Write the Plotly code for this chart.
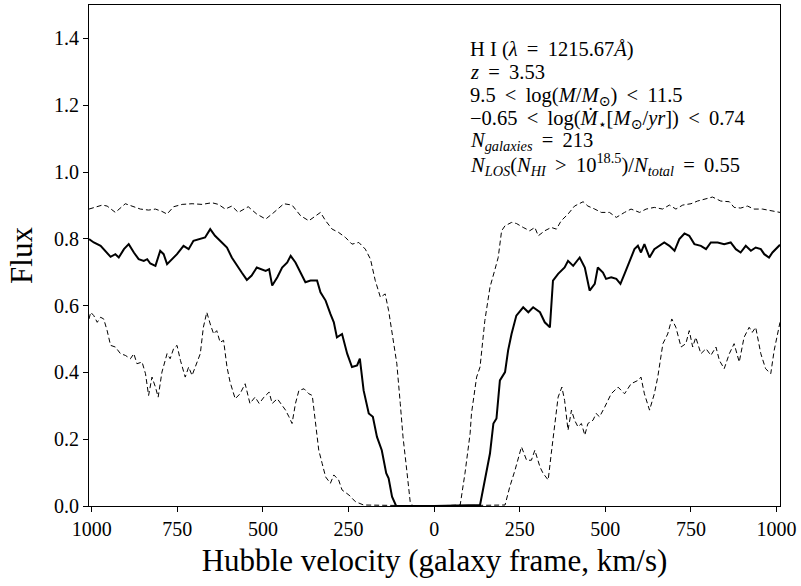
import plotly.graph_objects as go

# ---- data ----
v_upper = [-1008,-989,-969,-955,-931,-902,-882,-858,-834,-814,-795,-780,-761,-736,-707,
           -678,-649,-630,-610,-591,-572,-543,-518,-492,-468,-439,-415,-390,-366,-346,
           -332,-317,-298,-279,-259,-240,-220,-201,-186,-172,-157,-143,-133,-118,-109,
           -99,-91,-80,-70,-62,0,76,90,105,109,124,134,148,163,178,187,197,207,226,240,
           260,279,294,304,323,342,357,371,391,410,435,449,469,488,512,532,556,575,600,
           619,643,667,687,706,726,750,769,789,813,837,862,876,895,915,934,959,978,997,1010]
f_upper = [0.889,0.896,0.901,0.898,0.879,0.905,0.898,0.889,0.886,0.889,0.882,0.874,0.896,0.903,0.905,
           0.903,0.908,0.903,0.889,0.898,0.879,0.896,0.874,0.859,0.879,0.905,0.901,0.869,0.854,0.869,
           0.879,0.854,0.829,0.819,0.804,0.784,0.789,0.769,0.739,0.675,0.625,0.635,0.585,0.486,0.426,
           0.307,0.207,0.107,0.013,0.0,0.0,0.003,0.098,0.217,0.277,0.386,0.416,0.555,0.655,0.710,
           0.744,0.824,0.839,0.849,0.846,0.834,0.824,0.834,0.809,0.824,0.834,0.829,0.854,0.874,0.898,
           0.911,0.898,0.889,0.879,0.879,0.864,0.879,0.889,0.879,0.889,0.894,0.889,0.901,0.889,0.901,
           0.905,0.913,0.918,0.925,0.913,0.911,0.894,0.892,0.898,0.889,0.889,0.886,0.881,0.879]

v_median = [-1008,-994,-974,-960,-945,-931,-921,-906,-892,-877,-863,-848,-838,-829,-814,
            -800,-790,-780,-766,-751,-732,-717,-703,-683,-669,-654,-640,-620,-605,-591,
            -576,-562,-547,-533,-518,-492,-482,-473,-458,-444,-429,-419,-405,-390,-376,
            -361,-342,-332,-317,-303,-293,-284,-269,-254,-240,-225,-217,-206,-191,-179,
            -167,-153,-140,-133,-123,-111,0,134,148,163,173,182,192,207,216,226,240,
            260,275,289,309,323,338,347,362,381,391,406,425,440,454,469,478,493,502,517,532,
            544,556,571,585,595,604,614,629,643,658,672,687,702,716,731,745,760,779,794,808,
            828,847,866,881,895,910,925,939,954,964,978,988,1002,1010]
f_median = [0.799,0.789,0.779,0.764,0.746,0.754,0.744,0.769,0.784,0.759,0.739,0.734,0.739,0.726,0.719,
            0.764,0.754,0.724,0.739,0.754,0.779,0.769,0.794,0.799,0.804,0.829,0.809,0.789,0.774,0.744,
            0.719,0.699,0.677,0.690,0.714,0.704,0.709,0.660,0.685,0.714,0.729,0.749,0.729,0.699,0.670,
            0.675,0.675,0.640,0.615,0.575,0.550,0.505,0.515,0.456,0.416,0.421,0.441,0.346,0.277,0.267,
            0.207,0.167,0.098,0.083,0.028,0.0,0.0,0.003,0.078,0.157,0.247,0.262,0.376,0.401,0.466,
            0.515,0.570,0.595,0.580,0.595,0.580,0.550,0.535,0.675,0.695,0.714,0.734,0.719,0.744,0.714,
            0.645,0.665,0.714,0.699,0.680,0.685,0.680,0.665,0.695,0.734,0.769,0.779,0.759,0.784,0.744,
            0.769,0.779,0.789,0.779,0.764,0.799,0.816,0.809,0.784,0.779,0.769,0.789,0.789,0.784,0.789,
            0.769,0.759,0.779,0.764,0.774,0.769,0.754,0.744,0.759,0.774,0.782]

v_lower = [-1008,-1003,-994,-984,-974,-965,-955,-945,-931,-916,-902,-887,-877,-868,-853,
           -843,-834,-824,-814,-806,-795,-780,-771,-761,-751,-741,-727,-717,-707,-693,
           -683,-674,-664,-654,-644,-635,-625,-615,-605,-596,-581,-567,-552,-538,-523,
           -511,-497,-482,-473,-458,-444,-434,-424,-415,-405,-395,-380,-366,-356,-346,
           -337,-327,-317,-303,-293,-279,-269,-249,-230,-206,0,207,221,236,245,255,
           270,284,294,309,318,333,342,352,362,373,381,391,401,410,420,430,440,449,464,473,
           483,498,507,517,537,556,575,595,604,614,629,643,653,668,682,694,706,721,735,745,
           755,764,779,794,808,823,833,847,862,876,891,905,920,929,939,954,968,983,993,1010]
f_lower = [0.560,0.580,0.570,0.550,0.565,0.560,0.525,0.481,0.476,0.456,0.451,0.441,0.456,0.426,0.431,
           0.396,0.331,0.386,0.356,0.326,0.401,0.456,0.441,0.471,0.481,0.436,0.386,0.416,0.391,0.431,
           0.456,0.535,0.580,0.545,0.515,0.525,0.490,0.496,0.416,0.371,0.321,0.336,0.366,0.307,0.326,
           0.307,0.326,0.341,0.307,0.321,0.301,0.287,0.267,0.247,0.307,0.346,0.351,0.336,0.331,0.247,
           0.167,0.127,0.087,0.068,0.093,0.078,0.048,0.033,0.013,0.003,0.0,0.003,0.058,0.107,0.137,0.177,
           0.137,0.137,0.167,0.117,0.098,0.078,0.157,0.247,0.326,0.356,0.316,0.227,0.287,0.257,0.237,
           0.247,0.212,0.247,0.257,0.277,0.267,0.296,0.316,0.336,0.356,0.336,0.366,0.376,0.386,0.336,
           0.287,0.336,0.386,0.486,0.515,0.560,0.535,0.476,0.486,0.525,0.476,0.505,0.456,0.471,0.451,
           0.476,0.436,0.411,0.456,0.486,0.431,0.505,0.535,0.520,0.535,0.456,0.411,0.396,0.466,0.550]

x_tick_values = [-1000, -750, -500, -250, 0, 250, 500, 750, 1000]
x_tick_labels = ["1000", "750", "500", "250", "0", "250", "500", "750", "1000"]
y_tick_values = [0.0, 0.2, 0.4, 0.6, 0.8, 1.0, 1.2, 1.4]

T = "\u2009"  # thin space, mimics TeX spacing around relations
info_lines = [
    "H I (<i>λ</i>" + T + " = " + T + "1215.67<i>Å</i>)",
    "<i>z</i>" + T + " = " + T + "3.53",
    "9.5" + T + " &lt; " + T + "log(<i>M</i>/<i>M</i><sub>⊙</sub>)" + T + " &lt; " + T + "11.5",
    "−0.65" + T + " &lt; " + T + "log(<i>Ṁ</i><sub>⋆</sub>[<i>M</i><sub>⊙</sub>/<i>yr</i>])" + T + " &lt; " + T + "0.74",
    "<i>N</i><sub><i>galaxies</i></sub>" + T + " = " + T + "213",
    "<i>N</i><sub><i>LOS</i></sub>(<i>N</i><sub><i>HI</i></sub>" + T + " &gt; " + T
    + "10<sup>18.5</sup>)/<i>N</i><sub><i>total</i></sub>" + T + " = " + T + "0.55",
]

assert len(v_upper) == len(f_upper)
assert len(v_median) == len(f_median)
assert len(v_lower) == len(f_lower)

FONT = "Liberation Serif, DejaVu Serif, serif"

fig = go.Figure()
fig.add_trace(go.Scatter(x=v_upper, y=f_upper, mode="lines",
                         line=dict(color="black", width=1, dash="5px,3px"), showlegend=False))
fig.add_trace(go.Scatter(x=v_lower, y=f_lower, mode="lines",
                         line=dict(color="black", width=1, dash="5px,3px"), showlegend=False))
fig.add_trace(go.Scatter(x=v_median, y=f_median, mode="lines",
                         line=dict(color="black", width=2), showlegend=False))

centers_px = [48.5, 71, 96, 118.5, 141, 163.5]
for txt, cy in zip(info_lines, centers_px):
    fig.add_annotation(xref="paper", yref="paper", x=0.549, y=(506 - cy) / 502,
                       xanchor="left", yanchor="middle", text=txt, showarrow=False,
                       font=dict(family=FONT, size=20.5, color="black"))

fig.update_layout(
    width=801, height=586,
    margin=dict(l=89, r=18, t=4, b=80),
    paper_bgcolor="white", plot_bgcolor="white",
    font=dict(family=FONT, color="black"),
)
fig.update_xaxes(range=[-1008, 1010], tickvals=x_tick_values, ticktext=x_tick_labels,
                 ticks="outside", ticklen=5, tickwidth=1, tickcolor="black",
                 showline=True, linecolor="black", linewidth=1, mirror=True,
                 showgrid=False, zeroline=False,
                 tickfont=dict(family=FONT, size=20, color="black"),
                 title=dict(text="Hubble velocity (galaxy frame, km/s)",
                            font=dict(family=FONT, size=31, color="black"), standoff=10))
fig.update_yaxes(range=[0, 1.5], tickvals=y_tick_values, tickformat=".1f",
                 ticks="outside", ticklen=5, tickwidth=1, tickcolor="black",
                 showline=True, linecolor="black", linewidth=1, mirror=True,
                 showgrid=False, zeroline=False,
                 tickfont=dict(family=FONT, size=20, color="black"),
                 title=dict(text="Flux", font=dict(family=FONT, size=31, color="black"), standoff=12))

fig.write_html("out.html")
